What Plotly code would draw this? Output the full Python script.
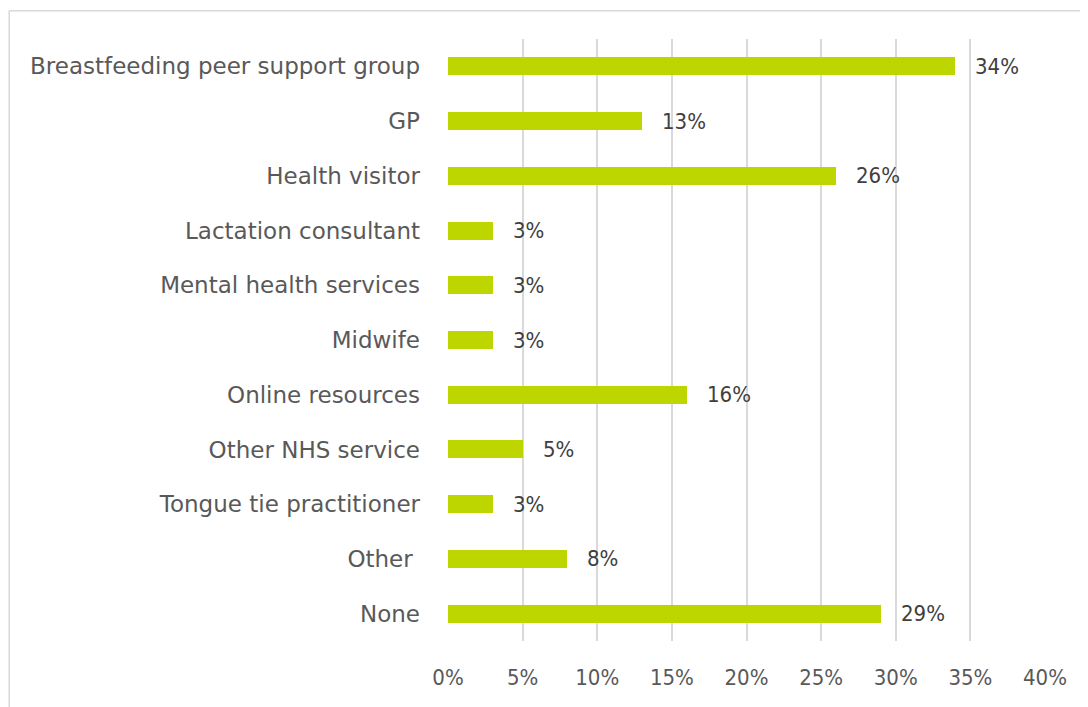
import plotly.graph_objects as go

categories = [
    "Breastfeeding peer support group",
    "GP",
    "Health visitor",
    "Lactation consultant",
    "Mental health services",
    "Midwife",
    "Online resources",
    "Other NHS service",
    "Tongue tie practitioner",
    "Other\u00a0",
    "None",
]
values = [34, 13, 26, 3, 3, 3, 16, 5, 3, 8, 29]
x_ticks = [0, 5, 10, 15, 20, 25, 30, 35, 40]
x_tick_labels = [f"{t}%" for t in x_ticks]

FONT = "DejaVu Sans"
NUM_FONT = "DejaVu Sans Condensed, DejaVu Sans"
BAR = "#BED600"

fig = go.Figure()

fig.add_trace(go.Bar(
    x=values, y=categories, orientation="h",
    marker=dict(color=BAR, line=dict(width=0)),
    width=0.33,
    hoverinfo="skip",
))

# data labels, offset to the right of each bar end
for cat, v in zip(categories, values):
    fig.add_annotation(
        x=v, y=cat, text=f"{v}%", showarrow=False,
        xanchor="left", yanchor="middle", xshift=18,
        font=dict(family=NUM_FONT, size=22, color="#404040"),
    )

# outer chart border (partly cropped in the reference)
fig.add_shape(type="line", xref="paper", yref="paper",
              x0=-0.735, x1=1.2, y0=1.047, y1=1.047,
              line=dict(color="#d9d9d9", width=1.5))
fig.add_shape(type="line", xref="paper", yref="paper",
              x0=-0.735, x1=-0.735, y0=-0.2, y1=1.047,
              line=dict(color="#d9d9d9", width=1.5))

fig.update_layout(
    width=1088, height=707,
    margin=dict(l=440, r=51, t=31, b=74),
    paper_bgcolor="white", plot_bgcolor="white",
    showlegend=False,
    font=dict(family=FONT, size=22, color="#595959"),
    bargap=0,
)
fig.update_xaxes(
    range=[0, 40], tickvals=x_ticks, ticktext=x_tick_labels,
    showgrid=True, gridcolor="#d9d9d9", gridwidth=1.5,
    zeroline=False, showline=False, ticks="",
    ticklabelstandoff=21,
    tickfont=dict(family=NUM_FONT, size=22, color="#595959"),
)
fig.update_yaxes(
    autorange="reversed", showgrid=False, zeroline=False,
    showline=False, ticks="", ticklabelstandoff=27,
    tickfont=dict(family=FONT, size=23, color="#595959"),
)

fig.write_html("out.html")
